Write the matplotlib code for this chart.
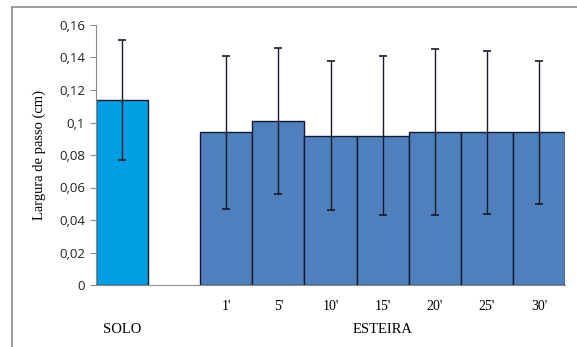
import matplotlib
matplotlib.use("Agg")
import matplotlib.pyplot as plt
from matplotlib.patches import Rectangle

# mean step width and SD per condition
categories = ["", "", "1'", "5'", "10'", "15'", "20'", "25'", "30'"]
solo_mean = [0.114]
solo_sd = [0.037]
esteira_labels = ["1'", "5'", "10'", "15'", "20'", "25'", "30'"]
esteira_mean = [0.094, 0.101, 0.092, 0.092, 0.094, 0.094, 0.094]
esteira_sd = [0.047, 0.045, 0.046, 0.049, 0.051, 0.050, 0.044]
group_labels = ["SOLO", "ESTEIRA"]
yticks = [0, 0.02, 0.04, 0.06, 0.08, 0.1, 0.12, 0.14, 0.16]
ytick_labels = ["0", "0,02", "0,04", "0,06", "0,08", "0,1", "0,12", "0,14", "0,16"]

W, H = 577, 347
fig = plt.figure(figsize=(W / 100, H / 100), dpi=100)
fig.patch.set_facecolor("white")

# outer chart frame
fig.add_artist(Rectangle((12 / W, -0.01), 1.0, (H - 7) / H + 0.01,
                         transform=fig.transFigure, fill=False,
                         edgecolor="#8c8c8c", linewidth=1.2))

ax = fig.add_axes([96 / W, (H - 285) / H, (565 - 96) / W, (285 - 25) / H])

solo_x = [0]
est_x = list(range(2, 2 + len(esteira_mean)))

ax.bar(solo_x, solo_mean, width=1.0, color="#009fe3", edgecolor="#111a2e",
       linewidth=1.0, zorder=2)
ax.bar(est_x, esteira_mean, width=1.0, color="#4f7fbd", edgecolor="#111a2e",
       linewidth=1.0, zorder=2)
ax.errorbar(solo_x + est_x, solo_mean + esteira_mean,
            yerr=solo_sd + esteira_sd, fmt="none", ecolor="#1a1a2a",
            elinewidth=1.0, capsize=3, capthick=1.2, zorder=3)

ax.set_xlim(-0.5, 8.5)
ax.set_ylim(0, 0.16)
ax.set_yticks(yticks)
ax.set_yticklabels(ytick_labels, fontsize=9.5, family="Open Sans",
                   color="#222222")
ax.tick_params(axis="y", length=4, color="#8c8c8c", pad=4)

ax.set_xticks(range(len(categories)))
ax.set_xticklabels(categories, fontsize=10, family="Liberation Serif")
ax.tick_params(axis="x", length=0, pad=11)

for side in ["top", "right"]:
    ax.spines[side].set_visible(False)
ax.spines["left"].set_color("#8c8c8c")
ax.spines["bottom"].set_color("#8c8c8c")

ax.set_ylabel("Largura de passo (cm)", fontsize=10.5, family="Liberation Serif",
              labelpad=9)

# group labels under the category ticks
ax.text(0, -0.0275, group_labels[0], transform=ax.transData,
        ha="center", va="center", fontsize=10.5, family="Liberation Serif")
ax.text(5, -0.0275, group_labels[1], transform=ax.transData,
        ha="center", va="center", fontsize=10.5, family="Liberation Serif")

fig.savefig("out.png", dpi=100)
